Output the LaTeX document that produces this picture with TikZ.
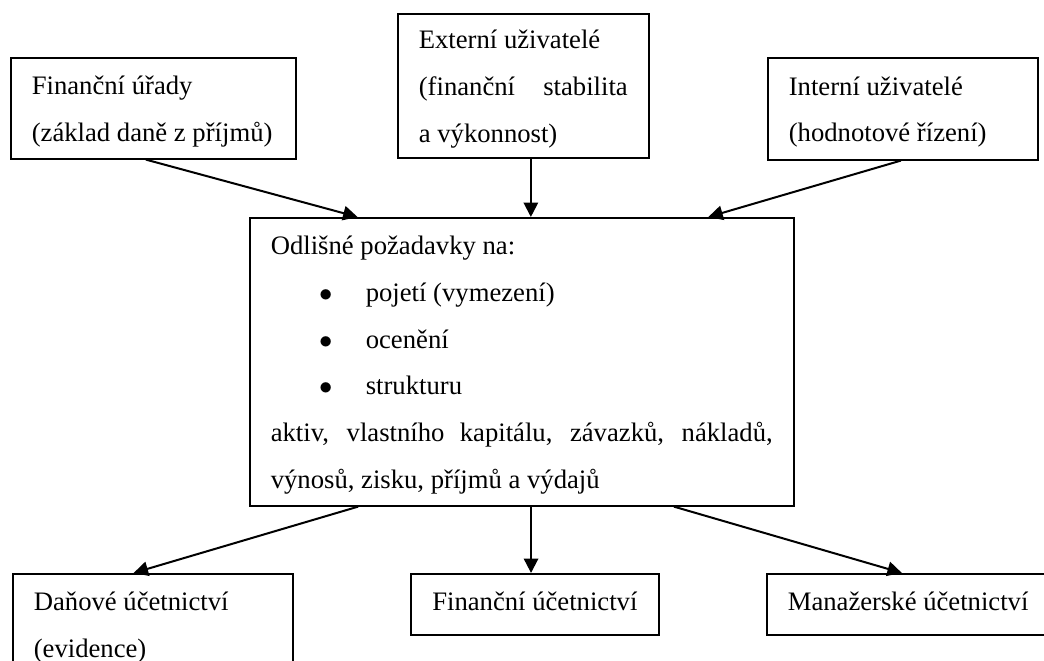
\documentclass[tikz,border=0pt]{standalone}
\usepackage{fontspec}
\setmainfont{Liberation Serif}
\usetikzlibrary{arrows.meta,calc}

\begin{document}
\begin{tikzpicture}[>={Triangle[length=6.5pt,width=6.5pt]},
    box/.style={draw, line width=0.75pt, anchor=north west, align=justify,
        inner xsep=9.45pt, inner ysep=2pt, text height=0.4cm,
        font=\fontsize{12pt}{21pt}\selectfont},
    onebox/.style={box, align=center, text depth=0.2cm},
    arr/.style={->, line width=0.9pt}]

    \useasboundingbox (0,0) rectangle (16.512,10.454);
    \clip (0,0) rectangle (16.512,10.454);

    % Users (top row)
    \node[box, text width=3.842cm, minimum height=1.597cm] (urady) at (0.158,9.553)
        {Finanční úřady\\(základ daně z~příjmů)};
    \node[box, text width=3.304cm, minimum height=2.278cm] (externi) at (6.279,10.249)
        {Externí uživatelé\\(finanční stabilita a~výkonnost)};
    \node[box, text width=3.604cm, minimum height=1.613cm] (interni) at (12.131,9.553)
        {Interní uživatelé\\(hodnotové řízení)};

    % Requirements (middle)
    \node[box, text width=7.938cm, minimum height=4.555cm] (pozadavky) at (3.938,7.022)
        {Odlišné požadavky na:\\
        \hspace*{21.75pt}\makebox[21pt][l]{$\bullet$}pojetí (vymezení)\\
        \hspace*{21.75pt}\makebox[21pt][l]{$\bullet$}ocenění\\
        \hspace*{21.75pt}\makebox[21pt][l]{$\bullet$}strukturu\\
        aktiv, vlastního kapitálu, závazků, nákladů, výnosů, zisku, příjmů a~výdajů};

    % Accounting (bottom row)
    \node[box, text width=3.762cm, minimum height=1.6cm] (danove) at (0.190,1.392)
        {Daňové účetnictví\\(evidence)};
    \node[onebox, minimum width=3.922cm, minimum height=0.965cm] (financni) at (6.485,1.392)
        {Finanční účetnictví};
    \node[onebox, minimum width=4.365cm, minimum height=0.965cm] (manazerske) at (12.115,1.392)
        {Manažerské účetnictví};

    % Arrows into the requirements
    \coordinate (u1) at ($(urady.south west)!0.474!(urady.south east)$);
    \coordinate (p1) at ($(pozadavky.north west)!0.199!(pozadavky.north east)$);
    \coordinate (e1) at ($(externi.south west)!0.53!(externi.south east)$);
    \coordinate (i1) at ($(interni.south west)!0.493!(interni.south east)$);
    \coordinate (p3) at ($(pozadavky.north west)!0.842!(pozadavky.north east)$);
    \draw[arr] (u1) -- (p1);
    \draw[arr] (e1) -- (e1 |- pozadavky.north);
    \draw[arr] (i1) -- (p3);

    % Arrows out of the requirements
    \coordinate (p4) at ($(pozadavky.south west)!0.2!(pozadavky.south east)$);
    \coordinate (d1) at ($(danove.north west)!0.432!(danove.north east)$);
    \coordinate (p5) at ($(pozadavky.south west)!0.517!(pozadavky.south east)$);
    \coordinate (p6) at ($(pozadavky.south west)!0.779!(pozadavky.south east)$);
    \coordinate (m1) at ($(manazerske.north west)!0.478!(manazerske.north east)$);
    \draw[arr] (p4) -- (d1);
    \draw[arr] (p5) -- (p5 |- financni.north);
    \draw[arr] (p6) -- (m1);

\end{tikzpicture}
\end{document}
